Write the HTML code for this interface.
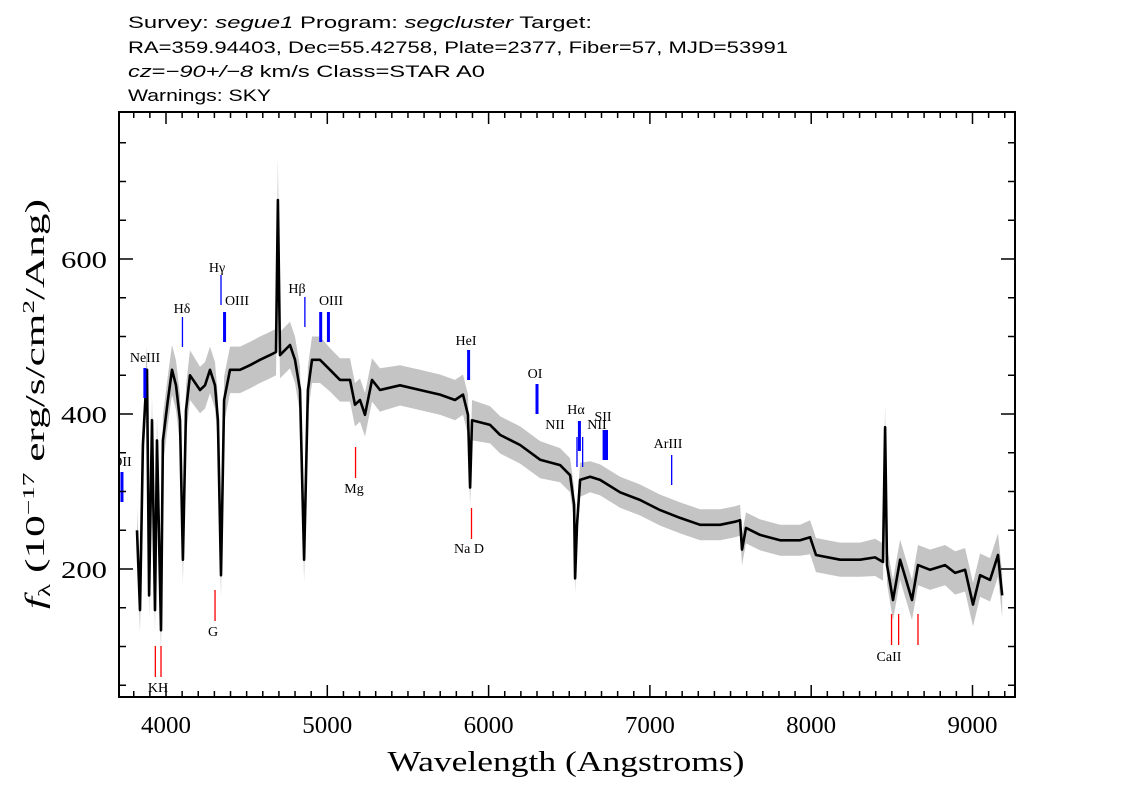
<!DOCTYPE html>
<html><head><meta charset="utf-8"><style>
html,body{margin:0;padding:0;background:#fff;}
svg{display:block;}
text{font-family:"Liberation Sans",sans-serif;}
.ser{font-family:"Liberation Serif",serif;}
</style></head><body>
<svg id="chart" width="1134" height="810" xmlns="http://www.w3.org/2000/svg">
<g font-size="17" fill="#000">
<text x="128" y="28" textLength="464" lengthAdjust="spacingAndGlyphs">Survey: <tspan font-style="italic">segue1</tspan> Program: <tspan font-style="italic">segcluster</tspan> Target:</text>
<text x="128" y="53" textLength="660" lengthAdjust="spacingAndGlyphs">RA=359.94403, Dec=55.42758, Plate=2377, Fiber=57, MJD=53991</text>
<text x="128" y="77" textLength="357" lengthAdjust="spacingAndGlyphs"><tspan font-style="italic">cz</tspan>=<tspan font-style="italic">−90+/−8</tspan> km/s Class=STAR A0</text>
<text x="128" y="101" textLength="143" lengthAdjust="spacingAndGlyphs">Warnings: SKY</text>
</g>
<g id="plot"></g>
<text class="ser" x="566" y="771" font-size="28" text-anchor="middle" textLength="357" lengthAdjust="spacingAndGlyphs">Wavelength (Angstroms)</text>
<text class="ser" font-size="27" text-anchor="middle" transform="translate(44,404) rotate(-90)" textLength="410" lengthAdjust="spacingAndGlyphs"><tspan font-style="italic">f</tspan><tspan font-size="17" dy="6">λ</tspan><tspan dy="-6"> (10</tspan><tspan font-size="17" dy="-10">−17</tspan><tspan dy="10"> erg/s/cm</tspan><tspan font-size="17" dy="-10">2</tspan><tspan dy="10">/Ang)</tspan></text>
</svg>
<script>
const wave=[3820,3839,3857,3882,3895,3913,3932,3944,3969,3981,4012,4037,4062,4087,4105,4124,4149,4211,4242,4273,4304,4322,4341,4360,4397,4459,4521,4583,4645,4682,4694,4707,4769,4800,4831,4856,4880,4905,4955,5017,5079,5141,5172,5203,5234,5277,5327,5451,5575,5699,5792,5841,5872,5885,5897,6009,6071,6195,6319,6443,6505,6530,6536,6548,6567,6629,6691,6815,6939,7063,7187,7311,7435,7528,7559,7571,7596,7683,7807,7931,7993,8030,8179,8303,8396,8445,8458,8470,8507,8551,8625,8662,8737,8830,8892,8954,9003,9047,9109,9158,9184];
const flux=[250,147,360,457,166,392,147,366,121,366,418,457,437,392,212,405,450,431,437,457,437,392,192,418,457,457,463,470,476,480,676,476,489,470,431,212,431,470,470,457,444,444,412,418,399,444,431,437,431,425,418,425,399,305,392,386,373,360,341,334,321,283,188,257,315,319,315,299,289,276,266,257,257,261,263,225,253,244,237,237,241,218,212,212,215,209,383,205,160,212,160,205,199,205,195,199,154,192,186,218,166];
const err=[30,30,32,32,30,32,30,32,30,32,32,32,32,32,30,32,32,30,30,30,30,30,28,30,30,30,30,30,30,30,55,30,30,30,30,28,30,30,30,28,28,28,28,28,28,28,28,26,26,26,26,26,26,24,26,24,24,24,24,22,22,22,20,22,22,20,20,20,20,20,20,20,20,20,20,20,20,20,20,20,22,22,22,22,24,24,30,24,26,26,26,26,26,26,28,28,28,28,28,28,28];
const xTicks=[4000,5000,6000,7000,8000,9000];
const yTicks=[200,400,600];
const emName=["OII","NeIII","Hδ","Hγ","OIII","Hβ","OIII","OIII","HeI","OI","NII","Hα","NII","SII","SII","ArIII"];
const emWave=[3727,3869,4102,4341,4363,4861,4959,5007,5876,6300,6548,6563,6583,6716,6731,7135];
const abName=["K","H","G","Mg","Na D","CaII","CaII","CaII"];
const abWave=[3934,3969,4304,5175,5894,8498,8542,8662];

const L=119,R=1015,T=112,B=697;
const x=l=>166+(l-4000)*0.1613;
const y=v=>569-(v-200)*0.775;
const NS="http://www.w3.org/2000/svg";
const plot=document.getElementById('plot');
function mk(tag,attrs,parent){const e=document.createElementNS(NS,tag);for(const k in attrs)e.setAttribute(k,attrs[k]);(parent||plot).appendChild(e);return e;}

// clip
const defs=mk('defs',{});
const cp=mk('clipPath',{id:'clip'},defs);
mk('rect',{x:L,y:T,width:R-L,height:B-T},cp);
const g=mk('g',{'clip-path':'url(#clip)'});



// error band
let up=[],dn=[];
for(let i=0;i<wave.length;i++){up.push(x(wave[i]).toFixed(1)+','+y(flux[i]+err[i]).toFixed(1));dn.unshift(x(wave[i]).toFixed(1)+','+y(flux[i]-err[i]).toFixed(1));}
const band=mk('polygon',{points:up.concat(dn).join(' '),fill:'#c4c4c4',stroke:'none'},g);


// spectrum
const pts=wave.map((w,i)=>x(w).toFixed(1)+','+y(flux[i]).toFixed(1)).join(' ');
const line=mk('polyline',{points:pts,fill:'none',stroke:'#000','stroke-width':2.6,'stroke-linejoin':'round'},g);



// annotations
const emY1=[472,368,317,275,312,297,312,312,350,384,437,421,437,430,430,455];
const emW=[3,3,1.3,1.3,3,1.3,3,3,3,3,1.3,3,1.3,3,3,1.3];
const emLab=[[122,466],[145,362],[182,313],[217,272],[237,305],[297,293],null,[331,305],[466,345],[535,378],[555,429],[576,414],[597,429],[603,421],null,[668,448]];
for(let i=0;i<emWave.length;i++){
  const xx=x(emWave[i]);
  const t=mk('line',{x1:xx,x2:xx,y1:emY1[i],y2:emY1[i]+30,stroke:'#0000ff','stroke-width':emW[i]},g);
  
  
  if(emLab[i]){
    const tx=mk('text',{x:emLab[i][0],y:emLab[i][1],'font-size':14,'text-anchor':'middle',class:'ser',fill:'#000'},g);
    tx.textContent=emName[i];
    
    
  }
}
const abY1=[646,646,590,447,508,614,614,614];
const abLab=[[158,692,"KH"],null,[213,636,"G"],[354,493,"Mg"],[469,553,"Na  D"],[889,661,"CaII"],null,null];
for(let i=0;i<abWave.length;i++){
  const xx=x(abWave[i]);
  const t=mk('line',{x1:xx,x2:xx,y1:abY1[i],y2:abY1[i]+31,stroke:'#ff0000','stroke-width':1.3},g);
  
  
  if(abLab[i]){
    const tx=mk('text',{x:abLab[i][0],y:abLab[i][1],'font-size':14,'text-anchor':'middle',class:'ser',fill:'#000'},g);
    tx.textContent=abLab[i][2];
    
    
  }
}

// frame
const fr=mk('rect',{x:L,y:T,width:R-L,height:B-T,fill:'none',stroke:'#000','stroke-width':2});


// x ticks
for(let w=3800;w<=9200;w+=100){
  const xx=x(w);const major=(w%1000===0);const len=major?12:6;
  mk('line',{x1:xx,x2:xx,y1:B,y2:B-len,stroke:'#000','stroke-width':1.5});
  mk('line',{x1:xx,x2:xx,y1:T,y2:T+len,stroke:'#000','stroke-width':1.5});
}
xTicks.forEach(v=>{
  const t=mk('text',{x:x(v),y:733,'font-size':24,'text-anchor':'middle',class:'ser',textLength:50,lengthAdjust:'spacingAndGlyphs'});
  t.textContent=v;
  
  
});
// y ticks
for(let v=50;v<=750;v+=50){
  const yy=y(v);const major=(v%200===0);const len=major?14:7;
  mk('line',{x1:L,x2:L+len,y1:yy,y2:yy,stroke:'#000','stroke-width':1.5});
  mk('line',{x1:R,x2:R-len,y1:yy,y2:yy,stroke:'#000','stroke-width':1.5});
}
yTicks.forEach(v=>{
  const t=mk('text',{x:107,y:y(v)+9,'font-size':24,'text-anchor':'end',class:'ser',textLength:46,lengthAdjust:'spacingAndGlyphs'});
  t.textContent=v;
  
  
});
</script>
</body></html>
